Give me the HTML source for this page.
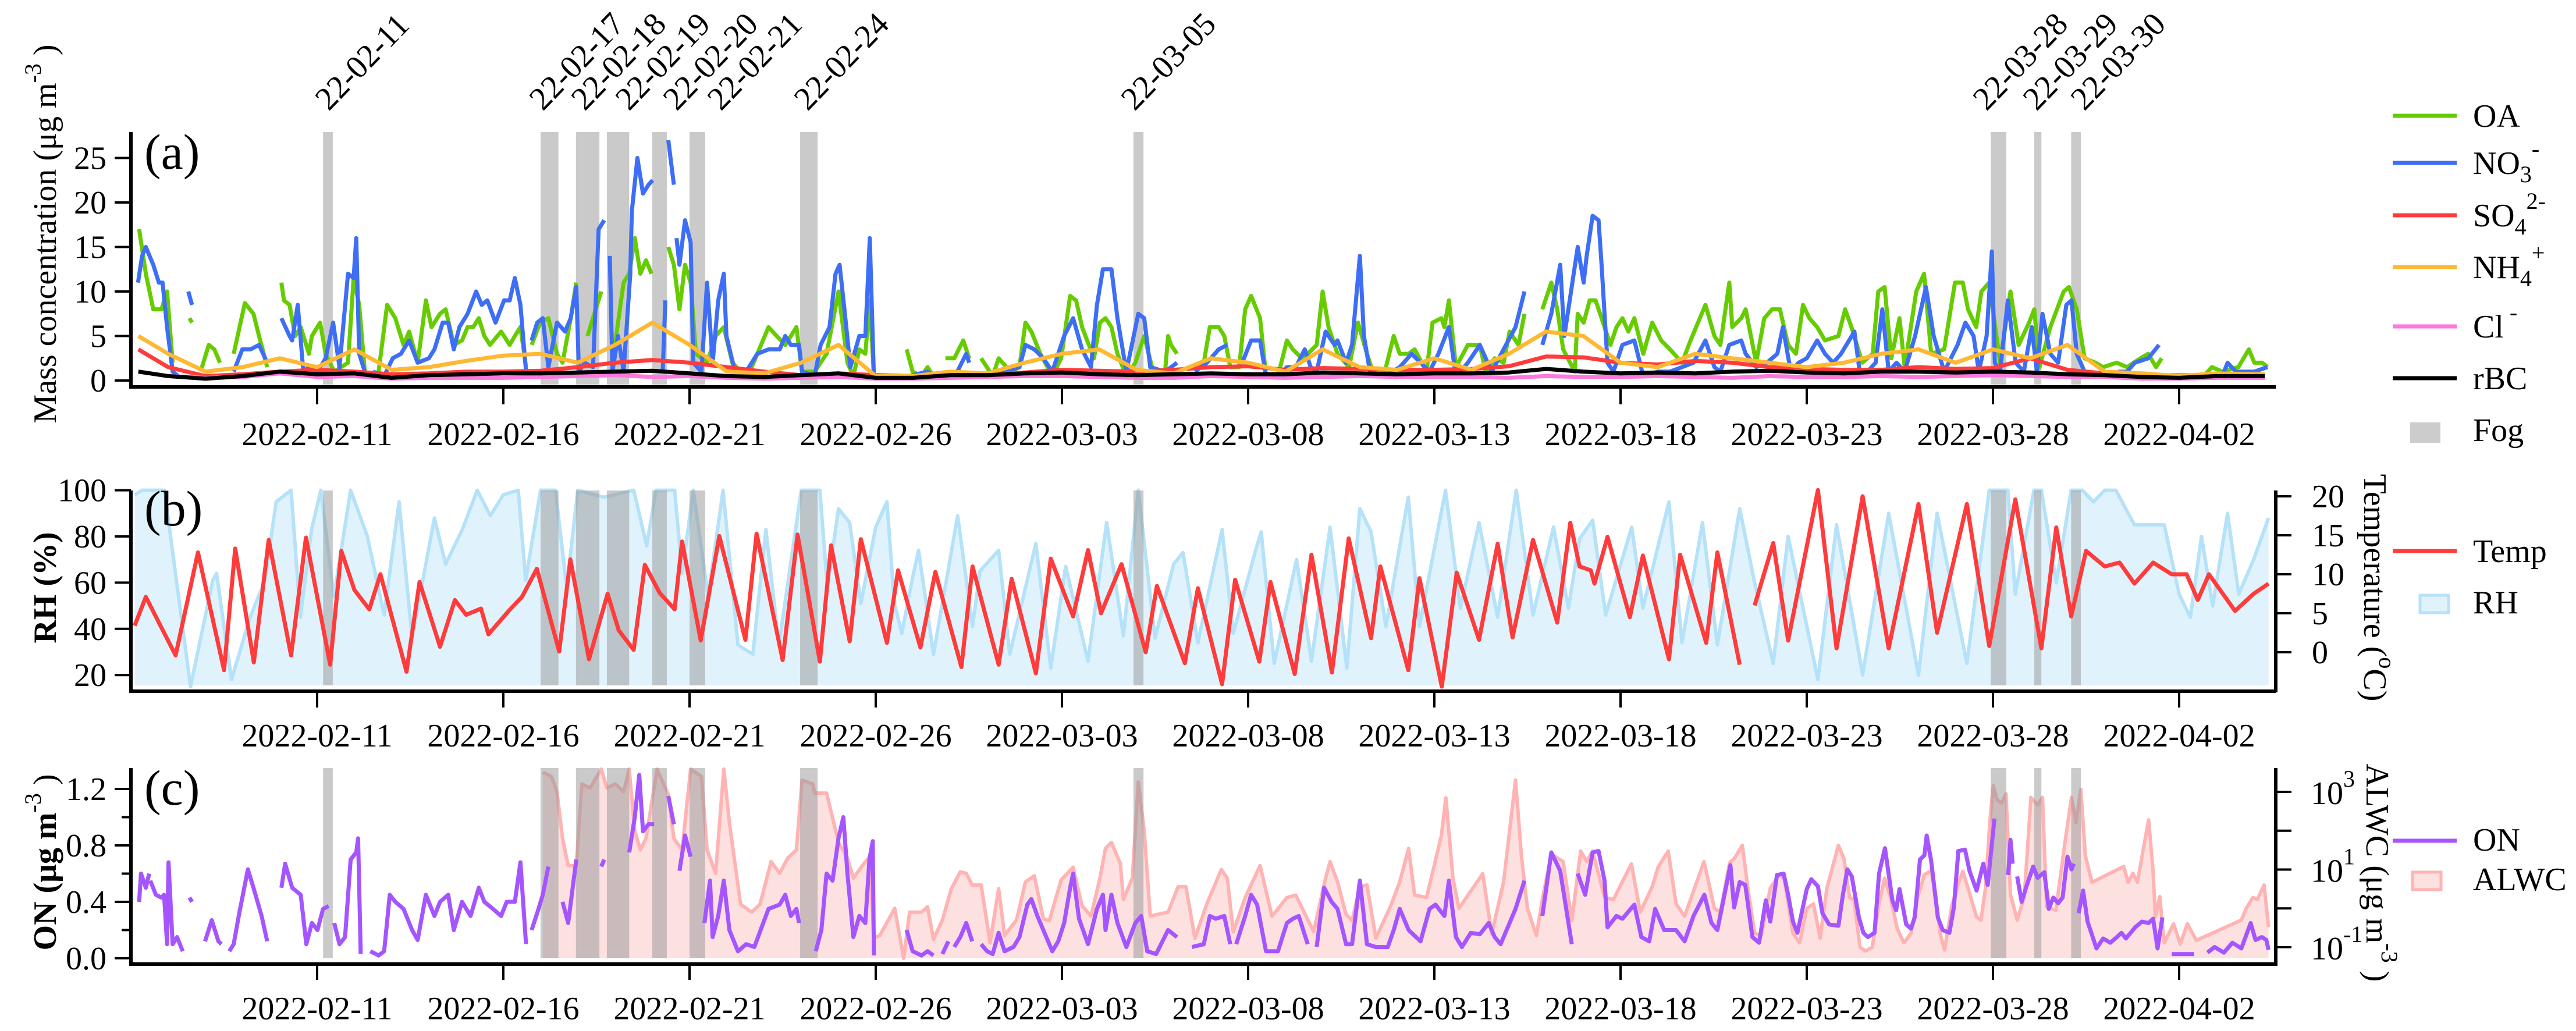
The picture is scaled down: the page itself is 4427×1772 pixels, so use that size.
<!DOCTYPE html>
<html><head><meta charset="utf-8"><title>Time series of aerosol composition, meteorology, ON and ALWC</title>
<style>html,body{margin:0;padding:0;background:#fff}svg{display:block}text{font-family:"Liberation Serif","Times New Roman",serif;fill:#000}</style>
</head><body>
<svg id="chart" xmlns="http://www.w3.org/2000/svg" width="4427" height="1772" viewBox="0 0 4427 1772">
<rect width="4427" height="1772" fill="#fff"/>
<g id="gA"></g>
<g id="gB"></g>
<g id="gC"></g>
<g id="gT"></g>
</svg>
<script>
// ---------- data ----------
const fogStart=[5.16,11.0,11.95,12.78,14.0,15.0,17.97,26.92,49.94,51.11,52.1];
const fogEnd=[5.42,11.48,12.58,13.38,14.39,15.42,18.44,27.19,50.36,51.3,52.36];
const fogLabels=["22-02-11","22-02-17","22-02-18","22-02-19","22-02-20","22-02-21","22-02-24","22-03-05","22-03-28","22-03-29","22-03-30"];
const fogLabelX=[565,933,1005,1081,1163,1239,1388,1950,3414,3500,3582];
const tickDays=[5,10,15,20,25,30,35,40,45,50,55];
const tickLabels=["2022-02-11","2022-02-16","2022-02-21","2022-02-26","2022-03-03","2022-03-08","2022-03-13","2022-03-18","2022-03-23","2022-03-28","2022-04-02"];
const concTicks=[0,5,10,15,20,25];
const rhTicks=[20,40,60,80,100];
const tempTicks=[0,5,10,15,20];
const onTicks=[0,0.4,0.8,1.2];
const onMinor=[0.2,0.6,1.0];
const alwcMajor=[-1,1,3];
const alwcMinor=[0,2];

const oaPts=[[0.22,17],[0.40,12],[0.60,8],[0.82,8],[0.97,10],[1.12,2],null,[1.57,7],[1.64,6.5],null,[1.87,1],[2.09,4],[2.24,3.5],[2.39,2],null,[2.76,3],[3.06,8.7],[3.29,7.5],[3.44,5],[3.66,1.5],null,[4.04,11],[4.11,9],[4.26,8.5],[4.41,5],[4.56,6],[4.78,3],[4.86,5],[5.08,6.5],[5.23,3],[5.46,1],[5.83,2],[5.98,11.5],[6.13,8.5],[6.28,1],null,[6.65,1],[6.88,8.5],[7.10,7],[7.32,4],[7.47,5.5],[7.70,2],[7.92,9],[8.07,6],[8.30,7.5],[8.45,8],[8.67,4],[8.89,4.5],[9.04,6],[9.19,6],[9.34,7],[9.49,5],[9.64,4],[9.94,5.5],[10.17,4],[10.31,5],[10.46,6],[10.61,1.5],null,[10.76,4],[10.99,6.5],[11.21,7],[11.44,3],[11.59,2],[11.81,7],[11.96,11],null,[12.26,5],[12.63,10],null,[12.93,2],[13.23,11],[13.38,12],[13.53,16],[13.68,12],[13.83,13.5],[13.98,12],null,[14.43,15],[14.58,13],[14.73,8],[14.88,13],[15.03,11],[15.17,3],[15.47,2],[15.70,5],[15.92,6],[16.15,2],[16.37,1],[16.67,1.5],[17.12,6],[17.34,5],[17.57,4],[17.72,5],[17.87,6],[18.02,1],[18.36,1],[18.68,3],[19.0,10],[19.24,2],[19.40,0.5],[19.56,3.5],[19.72,3],[19.84,9],[19.95,0.5],null,[20.83,3.5],[20.99,1],[21.23,0.5],[21.39,1.5],[21.55,0.5],null,[21.87,2.5],[22.11,2.5],[22.35,4.5],[22.51,2.5],null,[22.83,2.5],[23.14,0.5],[23.30,2.5],[23.62,1],[23.86,1.5],[24.02,6.5],[24.18,5.5],[24.42,3],[24.74,0.5],[24.98,2.5],[25.22,9.5],[25.38,9],[25.54,6],[25.86,2.5],[26.02,6.5],[26.17,7],[26.33,6],[26.49,3],[26.73,0.5],[26.97,2],[27.21,5],[27.45,1],[27.77,1],[27.85,5],[27.93,4],[28.09,3],null,[28.57,1.5],[28.81,2],[28.97,6],[29.21,6],[29.36,5],[29.52,1.5],[29.76,1.5],[29.92,8],[30.08,9.5],[30.32,7],[30.48,0.5],[30.80,0.5],[31.04,4.5],[31.2,3.5],[31.44,2.5],[31.6,3],[31.84,4],[32.0,10],[32.16,6],[32.4,3],[32.71,1.5],[32.95,6.5],[33.19,3],[33.35,1],[33.67,1],[33.91,5],[34.07,3],[34.31,3],[34.47,3.5],[34.79,1],[34.95,6.5],[35.19,7],[35.27,6],[35.39,9],[35.58,1.5],[35.9,4],[36.22,4],[36.38,1],[36.62,2.5],[36.86,2],[37.02,5.5],[37.26,4],[37.42,7.5],null,[37.9,8],[38.14,11],[38.3,8],[38.46,3.5],[38.77,1],[38.85,7.5],[39.01,6.5],[39.17,9],[39.33,9],[39.49,7],[39.73,4],[39.89,6],[40.05,7],[40.21,5.5],[40.37,7],[40.61,3],[40.85,6.5],[41.09,4.5],[41.33,3.5],[41.65,2],[41.88,4.5],[42.28,8.5],[42.52,5],[42.68,4],[42.92,11],[43.0,6],[43.24,7],[43.36,8],[43.64,2],[43.86,7],[44.07,8],[44.28,8],[44.5,4],[44.71,3],[44.9,8.5],[45.07,7],[45.28,6],[45.49,4.5],[45.85,5],[46.03,8],[46.2,6],[46.49,2],[46.77,3],[46.92,10],[47.09,10.5],[47.27,2.5],[47.49,7],[47.63,1.5],[47.94,10],[48.15,12],[48.34,3],[48.69,3.5],[48.98,11],[49.19,11],[49.33,8],[49.55,6],[49.69,10],[49.9,11],[50.19,2],[50.47,10],[50.69,4],[50.97,6.5],[51.11,8],[51.25,1.5],[51.54,6],[51.9,10],[52.04,10.5],[52.25,8],[52.46,2.5],[52.75,2],[52.96,1.5],[53.32,2],[53.6,1.5],[53.96,2.5],[54.17,3],[54.38,1.5],[54.53,2.5],null,[54.74,0.6],[55.38,0.6],null,[55.66,0.5],[55.88,1.5],[56.16,1],[56.59,1.5],[56.87,3.5],[57.02,2],[57.23,2],[57.37,1.5]];

const no3Pts=[[0.19,11],[0.30,14],[0.40,15],[0.60,13],[0.75,11],[0.85,11],[0.97,6],[1.12,1],[1.27,0.5],null,[1.54,10],[1.64,8.5],null,[1.87,0.5],[2.17,0.5],[2.39,0.5],null,[2.76,1],[2.99,3.5],[3.21,3.5],[3.44,4],[3.66,2],null,[4.04,7],[4.26,5],[4.33,4.5],[4.48,8.5],[4.63,1],[4.78,1.5],[5.01,1],[5.23,2.5],[5.43,6.5],[5.60,1.5],[5.83,12],[5.98,11.5],[6.05,16],[6.13,3],[6.28,1],null,[6.50,1],[6.80,0.5],[7.03,2.5],[7.25,3],[7.47,4.5],[7.70,2],[8.0,2.5],[8.15,3.5],[8.37,6.5],[8.52,6.5],[8.67,3.5],[8.82,6],[9.04,7.5],[9.27,10],[9.42,8.5],[9.57,9],[9.79,6.5],[10.02,9],[10.17,9],[10.31,11.5],[10.46,8.5],[10.61,1],null,[10.76,4.5],[10.91,6.5],[11.06,7],[11.21,1.5],[11.44,6.5],[11.66,5.5],[11.81,7],[11.96,10.5],[12.03,1],[12.18,2],[12.41,1.5],[12.56,17],[12.71,18],null,[12.86,14],[12.93,1],[13.08,5],[13.23,1],[13.41,12],[13.45,19],[13.60,25],[13.75,21],[13.90,22],[14.01,22.5],null,[14.28,1],[14.35,9],null,[14.43,27],[14.58,22],null,[14.65,16],[14.73,13],[14.88,18],[15.03,15.5],[15.10,2],[15.32,1],[15.47,11],[15.62,2],[15.77,9],[15.92,12],[15.99,5],[16.22,1],[16.52,1],[16.82,3],[17.12,3.5],[17.42,3.5],[17.57,5],[17.72,4],[17.94,4],[18.02,1],[18.36,0.5],[18.52,4],[18.76,6],[18.92,12],[19.03,13],[19.16,8],[19.32,1.5],[19.56,5],[19.72,5],[19.84,16],[19.95,0.5],null,[20.91,0.5],[21.39,1],[21.55,0.5],null,[22.19,1],[22.43,3],[22.51,2],null,[22.99,0.5],[23.46,1],[23.86,1.5],[24.02,4],[24.26,3.5],[24.5,2.5],[24.74,1],[25.06,5],[25.3,7],[25.54,3.5],[25.78,1.5],[25.94,8.5],[26.1,12.5],[26.33,12.5],[26.49,7],[26.73,1],[27.05,7.5],[27.21,7],[27.37,1.5],[27.77,1],[28.09,2],null,[28.57,1],[28.89,2],[29.21,3.5],[29.44,4],null,[29.84,2],[30.08,4.5],[30.32,4.5],[30.48,0.5],[30.8,0.5],[31.04,1.5],[31.28,1.5],[31.52,3.5],[31.68,1.5],[31.84,1],[32.08,5.5],[32.32,4],[32.4,4.5],[32.63,2],[32.79,4],[33.0,14],[33.11,5],[33.27,1],[33.67,0.5],[34.07,1.5],[34.39,3],[34.63,2],[34.87,1],[35.11,3],[35.39,6],[35.58,0.5],[35.9,2],[36.22,4],[36.54,1],[36.86,3.5],[37.18,6],[37.42,10],null,[37.9,4],[38.14,7.5],[38.38,13],[38.49,5],[38.85,15],[39.01,11],[39.09,14],[39.25,18.5],[39.41,18],[39.49,13],[39.65,2],[39.81,1],[40.05,4],[40.37,4.5],[40.61,0.5],[41.01,1],[41.33,1],[41.65,1.5],[41.96,2],[42.28,4.5],[42.52,1.5],[42.68,1],[42.92,4],[43.24,4.5],[43.36,3],[43.64,1.5],[43.93,2],[44.21,3],[44.36,6],[44.57,1],[44.78,2],[45.0,2.5],[45.28,4.5],[45.49,3],[45.71,2],[45.92,3],[46.28,5.5],[46.42,1],[46.63,1],[46.85,2],[47.03,8],[47.2,1],[47.41,2],[47.63,1],[47.91,5],[48.2,10.5],[48.41,5],[48.69,1],[49.05,4],[49.26,6.5],[49.48,5],[49.62,1],[49.83,5],[49.97,14.5],[50.05,2],[50.19,1],[50.4,9],[50.61,2],[50.83,1],[51.04,6],[51.18,1],[51.33,7.5],[51.54,3],[51.75,2],[51.97,8.5],[52.11,9],[52.25,3],[52.46,1],[52.75,0.5],[53.17,0.5],[53.39,1],[53.6,1],[53.81,2],[54.17,2.5],[54.46,4],null,[54.74,0.3],[55.38,0.3],null,[55.66,0.5],[56.16,0.5],[56.3,2],[56.52,1],[57.02,1],[57.37,1.5]];

const minorDays=[0.2,1,2,3,4,5,6,7,8,9,10,11,12,13,14,15,16,17,18,19,20,21,22,23,24,25,26,27,28,29,30,31,32,33,34,35,36,37,38,39,40,41,42,43,44,45,46,47,48,49,50,51,52,53,54,55,56,57.3];
const so4Vals=[3.5,1.5,0.5,0.7,1.0,1.2,1.0,0.7,0.8,1.0,1.0,1.1,1.5,2.0,2.3,2.0,1.5,1.0,0.6,0.8,0.6,0.5,0.8,0.7,0.9,1.2,1.1,1.0,1.2,1.5,1.6,1.2,1.4,1.3,1.2,1.2,1.3,1.6,2.7,2.6,2.0,1.8,2.2,2.0,1.5,1.3,1.2,1.2,1.5,1.3,1.4,2.5,1.2,0.8,0.6,0.4,0.6,0.5];
const nh4Vals=[5,3,1,1.5,2.5,1.5,3.5,1.2,1.5,2.2,2.8,3,2,4,6.5,4,1,0.8,2,4,0.5,0.5,1,0.8,2,3,3.5,1.2,0.8,2.5,2,1,3.5,1.5,1.2,2.5,1.2,3,5.5,5,2,1.5,3,2.5,2,1.5,2,3,3.5,2,3.5,2.5,4,1,0.8,0.5,0.8,0.7];
const clVals=[1,0.5,0.3,0.4,0.8,0.4,0.5,0.2,0.3,0.3,0.3,0.4,0.5,0.6,0.4,0.5,0.3,0.2,0.3,0.4,0.2,0.2,0.3,0.4,0.5,0.5,0.4,0.3,0.3,0.5,0.4,0.3,0.4,0.5,0.4,0.4,0.4,0.3,0.5,0.4,0.4,0.5,0.4,0.3,0.5,0.4,0.4,0.5,0.4,0.5,0.6,0.5,0.4,0.4,0.2,0.2,0.3,0.3];
const rbcVals=[1,0.5,0.2,0.5,1.0,0.7,0.8,0.3,0.6,0.7,0.8,0.8,0.9,1.0,1.1,0.8,0.5,0.4,0.6,0.8,0.3,0.3,0.6,0.6,0.8,0.9,0.7,0.6,0.7,0.8,0.7,0.7,0.9,0.8,0.7,0.8,0.8,0.9,1.3,1.0,0.8,0.9,0.8,1.0,1.1,0.9,0.8,1.0,1.0,0.9,1.0,0.9,0.7,0.6,0.4,0.3,0.5,0.5];

const tempPts=[[0.1,3.4],[0.4,7.1],[1.2,-0.4],[1.8,12.8],[2.5,-2.3],[2.8,13.3],[3.3,-1.3],[3.7,14.4],[4.3,-0.4],[4.7,14.7],[5.35,-1.6],[5.65,13],[6.0,8],[6.4,5.5],[6.7,10],[7.4,-2.5],[7.75,9],[8.3,0.7],[8.7,6.7],[9.0,4.8],[9.4,5.6],[9.6,2.3],[10.0,4.5],[10.2,5.6],[10.5,7.1],[10.9,10.7],[11.5,0.1],[11.8,11.9],[12.3,-0.9],[12.8,7.5],[13.1,2.8],[13.5,0.3],[13.8,11.2],[14.2,7.6],[14.6,5.5],[14.8,14.2],[15.3,1.5],[15.8,14.9],[16.5,1.6],[16.8,15.2],[17.5,-1.0],[17.9,15.1],[18.5,-1.2],[18.8,13.7],[19.3,1.4],[19.6,14.5],[20.3,1.2],[20.6,10.5],[21.2,0.6],[21.6,10.3],[22.3,-1.9],[22.6,11],[23.3,-1.6],[23.65,9.4],[24.3,-2.7],[24.7,12],[25.3,4.6],[25.7,13.1],[26.05,5],[26.6,11.3],[27.25,0],[27.55,8.5],[28.3,-1.4],[28.65,8.2],[29.3,-4.1],[29.65,9.3],[30.3,-1.2],[30.6,9],[31.25,-2.8],[31.7,12.5],[32.25,-2.6],[32.7,14.6],[33.3,1.8],[33.55,11],[34.3,-2.3],[34.6,9.5],[35.2,-4.4],[35.6,10.2],[36.2,1.6],[36.7,13.9],[37.1,1.9],[37.65,14.4],[38.3,3.8],[38.65,16.6],[38.9,11],[39.2,10.5],[39.3,8.8],[39.65,14.8],[40.25,4.5],[40.6,12.4],[41.3,-0.9],[41.6,12.5],[42.3,1.2],[42.6,12.8],[43.2,-1.6],null,[43.6,6],[44.1,14],[44.5,1.5],[45.3,20.8],[45.8,0.5],[46.5,20],[47.2,0.5],[48,19],[48.5,2.5],[49.3,19],[49.9,0.8],[50.6,19.6],[51.3,0.5],[51.7,16],[52.1,4.6],[52.5,13],[53,11],[53.4,11.5],[53.8,8.8],[54.3,11.5],[54.8,10],[55.2,10],[55.5,6.7],[55.8,10],[56.5,5.3],[57,7.5],[57.4,8.8]];

const rhPts=[[0.1,98],[0.3,100],[0.9,100],[1.6,15],[2.2,61],[2.3,64],[2.7,18],[3.2,45],[3.6,61],[3.9,95],[4.3,100],[4.55,45],[4.85,83],[5.1,100],[5.45,54],[5.9,100],[6.35,80],[6.8,46],[7.2,95],[7.55,36],[8.15,88],[8.45,68],[8.9,83],[9.3,100],[9.65,89],[10.0,98],[10.4,100],[10.6,61],[11.0,100],[11.4,100],[11.7,58],[12.0,100],[12.7,97],[13.5,100],[13.85,76],[14.1,100],[14.6,100],[14.8,64],[15.1,100],[15.5,54],[15.9,100],[16.3,33],[16.7,29],[17.05,83],[17.4,33],[18.0,100],[18.5,100],[18.7,58],[19.0,92],[19.3,86],[19.6,51],[20.0,84],[20.3,95],[20.5,51],[20.7,38],[21.0,63],[21.15,74],[21.55,29],[22.2,89],[22.6,41],[22.8,65],[23.3,74],[23.6,29],[24.3,77],[24.7,23],[25.1,67],[25.7,26],[26.2,86],[26.65,37],[27.05,100],[27.5,36],[28.0,68],[28.25,73],[28.65,34],[29.3,83],[29.6,38],[30.2,74],[30.35,82],[30.7,25],[31.3,70],[31.7,26],[32.2,84],[32.65,23],[33.0,92],[33.3,82],[33.7,41],[34.3,97],[34.6,41],[35.3,100],[35.7,49],[36.2,86],[36.7,45],[37.2,100],[37.65,46],[38.2,84],[38.6,49],[38.9,79],[39.25,87],[39.6,46],[40.3,84],[40.6,49],[41.3,95],[41.65,34],[42.2,86],[42.6,33],[43.2,92],[43.6,60],[44.1,25],[44.5,80],[45.3,18],[45.8,85],[46.5,20],[47.2,90],[48,20],[48.5,90],[49.3,25],[49.9,100],[50.4,100],[50.6,55],[51.1,100],[51.3,100],[51.7,60],[52.1,100],[52.4,100],[52.7,95],[53,100],[53.3,100],[53.8,85],[54.3,85],[54.6,85],[55,55],[55.3,45],[55.6,80],[55.9,50],[56.3,90],[56.6,55],[57,70],[57.4,88]];

const onPts=[[0.22,0.4],[0.27,0.6],[0.40,0.5],[0.49,0.6],null,[0.52,0.55],[0.67,0.45],[0.82,0.43],[0.89,0.45],[0.97,0.1],[1.01,0.68],[1.12,0.1],[1.24,0.15],[1.39,0.05],null,[1.57,0.43],[1.64,0.4],null,[1.99,0.12],[2.17,0.27],[2.35,0.12],[2.43,0.1],null,[2.64,0.05],[2.76,0.1],[2.91,0.32],[3.14,0.63],[3.29,0.5],[3.51,0.3],[3.66,0.12],null,[4.04,0.5],[4.14,0.67],[4.33,0.5],[4.56,0.45],[4.71,0.1],[4.86,0.25],[5.01,0.2],[5.16,0.35],[5.31,0.37],null,[5.46,0.25],[5.60,0.1],[5.75,0.15],[5.90,0.7],[6.05,0.75],[6.10,0.85],[6.17,0.03],null,[6.43,0.05],[6.65,0.02],[6.80,0.05],[6.95,0.45],[7.10,0.4],[7.32,0.35],[7.55,0.2],[7.70,0.13],[7.92,0.45],[8.15,0.3],[8.30,0.4],[8.52,0.45],[8.67,0.2],[8.89,0.4],[9.12,0.3],[9.34,0.5],[9.49,0.4],[9.72,0.35],[9.94,0.3],[10.09,0.4],[10.31,0.4],[10.46,0.68],[10.61,0.1],null,[10.76,0.2],[10.91,0.32],[11.06,0.45],[11.21,0.65],null,[11.59,0.4],[11.74,0.25],[11.96,0.7],null,[12.63,0.65],[12.71,0.7],null,[13.38,0.75],[13.53,1.0],[13.65,1.3],[13.75,0.9],[13.90,0.95],[14.05,0.95],null,[14.43,1.15],[14.58,0.95],null,[14.73,0.62],[14.88,0.87],[15.03,0.72],null,[15.40,0.25],[15.55,0.55],[15.62,0.15],[15.77,0.3],[15.92,0.55],[16.07,0.2],[16.30,0.05],[16.52,0.1],[16.74,0.08],[17.12,0.35],[17.42,0.38],[17.57,0.45],[17.72,0.3],[17.87,0.35],[17.94,0.25],null,[18.39,0.05],[18.54,0.2],[18.68,0.6],[18.84,0.55],[19.0,0.85],[19.13,1.0],[19.24,0.6],[19.40,0.15],[19.56,0.3],[19.72,0.25],[19.83,0.7],[19.92,0.83],[19.95,0.02],null,[20.83,0.2],[20.99,0.05],[21.23,0.02],[21.39,0.05],[21.55,0.02],null,[21.79,0.03],[21.95,0.12],null,[22.11,0.08],[22.27,0.15],[22.43,0.25],[22.59,0.12],null,[22.83,0.1],[22.99,0.05],[23.14,0.03],[23.30,0.18],[23.46,0.05],[23.70,0.08],[23.86,0.15],[24.07,0.38],[24.18,0.42],[24.34,0.3],[24.5,0.2],[24.74,0.05],[24.9,0.12],[25.06,0.25],[25.22,0.5],[25.3,0.6],[25.46,0.28],[25.7,0.1],[25.94,0.35],[26.1,0.45],[26.17,0.2],[26.33,0.45],[26.49,0.25],[26.73,0.08],[26.97,0.25],[27.13,0.3],[27.29,0.05],[27.53,0.03],[27.85,0.2],[28.09,0.15],null,[28.49,0.08],[28.81,0.1],[28.97,0.3],[29.13,0.28],[29.36,0.3],[29.52,0.1],null,[29.68,0.1],[29.92,0.3],[30.08,0.45],[30.24,0.38],[30.48,0.05],[30.8,0.05],[31.04,0.25],[31.2,0.28],[31.36,0.3],[31.6,0.1],null,[31.84,0.08],[32.04,0.5],[32.24,0.4],[32.4,0.35],[32.63,0.1],[32.79,0.1],[33.0,0.55],[33.19,0.1],[33.43,0.08],[33.75,0.08],[33.91,0.2],[34.07,0.35],[34.31,0.2],[34.63,0.12],[34.87,0.35],[35.03,0.38],[35.27,0.3],[35.39,0.55],[35.58,0.15],[35.74,0.08],[35.98,0.18],[36.22,0.17],[36.46,0.25],[36.62,0.15],[36.78,0.1],[37.02,0.25],[37.18,0.35],[37.42,0.55],null,[37.9,0.3],[38.14,0.75],[38.38,0.62],[38.69,0.1],null,[38.85,0.6],[39.05,0.45],[39.25,0.75],[39.41,0.76],[39.57,0.55],[39.65,0.22],[39.89,0.3],[40.05,0.28],[40.37,0.38],[40.56,0.15],[40.77,0.12],[40.93,0.35],[41.17,0.2],[41.49,0.2],[41.72,0.12],[41.96,0.3],[42.25,0.45],[42.44,0.25],[42.6,0.2],[42.95,0.66],[43.05,0.36],[43.2,0.54],[43.35,0.52],[43.54,0.15],[43.72,0.11],[43.9,0.41],[44.02,0.26],[44.2,0.59],[44.38,0.6],[44.5,0.45],[44.63,0.26],[44.75,0.18],[45.0,0.49],[45.12,0.56],[45.3,0.51],[45.42,0.32],[45.6,0.24],[45.85,0.23],[45.97,0.45],[46.09,0.63],[46.21,0.58],[46.4,0.29],[46.52,0.18],[46.64,0.15],[46.82,0.18],[46.94,0.6],[47.1,0.78],[47.3,0.41],[47.4,0.34],[47.49,0.49],[47.67,0.24],[47.8,0.21],[47.9,0.29],[48.04,0.7],[48.16,0.73],[48.22,0.87],[48.34,0.69],[48.52,0.29],[48.65,0.2],[48.83,0.18],[48.95,0.36],[49.07,0.76],[49.25,0.77],[49.37,0.62],[49.56,0.48],[49.74,0.67],[49.86,0.52],[50.04,0.99],null,[50.41,0.59],[50.47,0.84],[50.53,0.67],null,[50.65,0.58],[50.77,0.4],[50.9,0.51],[51.08,0.65],[51.2,0.57],[51.38,0.61],[51.5,0.35],[51.62,0.43],[51.75,0.39],[51.87,0.43],[52.0,0.72],[52.11,0.63],[52.17,0.67],null,[52.3,0.32],[52.42,0.48],[52.54,0.26],[52.78,0.07],[52.96,0.14],[53.15,0.11],[53.33,0.15],[53.45,0.18],[53.57,0.14],[53.82,0.22],[54.0,0.26],[54.18,0.25],[54.3,0.28],[54.42,0.07],[54.55,0.29],null,[54.8,0.03],[55.4,0.03],null,[55.76,0.04],[55.95,0.08],[56.2,0.04],[56.43,0.11],[56.67,0.07],[56.92,0.25],[57.05,0.13],[57.22,0.15],[57.34,0.13],[57.4,0.06]];

const alwcPts=[[11.06,3200],[11.29,2500],[11.44,1000],[11.59,63],[11.74,12.6],[11.96,12.6],[12.11,1600],[12.33,1260],[12.63,5000],[12.78,1260],[13.01,1600],[13.23,1000],[13.38,5000],[13.53,100],[13.68,32],[13.83,63],[14.13,8000],[14.43,850],[14.58,63],[14.80,32],[15.03,5000],[15.32,2500],[15.47,32],[15.70,8],[15.92,4000],[16.07,160],[16.37,1.26],[16.67,0.8],[16.89,1.26],[17.19,16],[17.42,8],[17.64,20],[17.87,32],[18.02,2000],[18.31,1600],[18.36,930],[18.68,930],[19.0,50],[19.24,20],[19.4,6],[19.64,12.6],[19.83,21],[19.95,0.17],[20.11,0.2],[20.51,1],[20.75,0.04],[20.91,0.8],[21.23,0.8],[21.39,1.1],[21.55,0.16],[21.79,0.5],[22.03,3.2],[22.27,8.7],[22.43,8],[22.59,4],[22.83,4],[23.07,0.13],[23.3,3.2],[23.46,0.2],[23.78,0.5],[24.02,4.8],[24.26,6.9],[24.5,0.54],[24.66,0.48],[24.98,5.4],[25.3,11.5],[25.54,1.17],[25.78,0.63],[26.02,6],[26.17,35],[26.33,50],[26.57,14],[26.65,1.7],[26.89,6],[27.05,1800],[27.21,98],[27.37,0.63],[27.85,0.8],[28.12,3.6],[28.33,3.6],[28.57,0.17],[28.89,1.3],[29.28,10],[29.44,6],[29.6,0.25],[29.92,1.9],[30.32,12.6],[30.64,0.63],[31.04,1.9],[31.28,2.2],[31.76,0.25],[32.08,6],[32.2,16],[32.4,4.8],[32.63,0.7],[32.79,0.48],[33.0,3.6],[33.19,4],[33.43,0.17],[33.83,1.17],[34.07,4.8],[34.31,35],[34.47,2.2],[34.79,1.9],[35.19,76],[35.31,700],[35.5,6],[35.66,1],[36.3,7.8],[36.54,0.22],[36.86,4.8],[37.18,2000],[37.34,21],[37.5,1],[37.74,0.2],[37.9,1.7],[38.14,25],[38.46,16],[38.69,0.48],[38.93,30],[39.09,16],[39.25,30],[39.57,1.9],[39.81,1.7],[40.13,6.9],[40.29,14],[40.53,0.8],[40.85,3.6],[41.01,11.5],[41.28,30],[41.49,1.3],[41.72,0.63],[41.88,1.7],[42.24,16],[42.52,1],[42.68,0.8],[42.93,15],[43.05,19],[43.27,42],[43.42,3.3],[43.6,0.23],[43.78,0.2],[44.02,3.3],[44.27,7.4],[44.4,5.5],[44.63,0.23],[44.81,0.13],[45.0,1],[45.18,1.3],[45.36,0.17],[45.54,3.3],[45.85,42],[46.0,19],[46.15,1.9],[46.27,1.6],[46.43,0.1],[46.58,0.08],[46.76,0.1],[46.94,1.3],[47.09,6],[47.25,1.9],[47.43,0.3],[47.61,0.13],[47.8,0.23],[47.98,1.9],[48.16,7.4],[48.34,9.3],[48.46,2.3],[48.58,0.23],[48.7,0.085],[48.89,1.1],[49.07,4.3],[49.19,9],[49.38,2.3],[49.56,0.6],[49.68,0.5],[49.8,3.3],[49.92,190],[50.01,1450],[50.1,650],[50.23,510],[50.35,900],[50.47,2.3],[50.65,0.5],[50.84,1.9],[51.02,720],[51.2,460],[51.33,720],[51.44,1.1],[51.69,0.9],[51.93,47],[52.11,720],[52.23,160],[52.36,1150],[52.48,23],[52.66,4.7],[53.51,12],[53.63,4.7],[53.76,8],[53.88,4.7],[54.0,21],[54.18,190],[54.3,9],[54.36,0.6],[54.48,2],[54.6,0.13],[54.85,0.4],[55.03,0.12],[55.22,0.4],[55.46,0.15],[55.7,0.19],[56.67,0.5],[56.8,1],[56.98,1.9],[57.1,1.7],[57.28,4],[57.4,0.33]];

// ---------- scales ----------
const X0=225, PXD=64;
const xs=d=>X0+PXD*d;
const yA=c=>654-15.3*c;
const yRH=r=>922-(r-80)*3.97;
const yT=t=>1121-13.4*t;
const yON=v=>1647-242.5*v;
const yAL=v=>Math.max(1322,Math.min(1647,1628-(Math.log10(v)+1)*66.75));
const XR=3911;
const LW=7;

const NS="http://www.w3.org/2000/svg";
function mk(parent,tag,attrs){const e=document.createElementNS(NS,tag);for(const k in attrs)e.setAttribute(k,attrs[k]);parent.appendChild(e);return e;}
function pathFromPts(pts,yf){let d="",pen=false;for(const p of pts){if(p===null){pen=false;continue;}d+=(pen?"L":"M")+xs(p[0]).toFixed(1)+" "+yf(p[1]).toFixed(1);pen=true;}return d;}
function pathFromArrays(days,vals,yf){let d="",pen=false;for(let i=0;i<days.length;i++){if(vals[i]===null){pen=false;continue;}d+=(pen?"L":"M")+xs(days[i]).toFixed(1)+" "+yf(vals[i]).toFixed(1);pen=true;}return d;}

const gA=document.getElementById('gA'),gB=document.getElementById('gB'),gC=document.getElementById('gC'),gT=document.getElementById('gT');
const FOG="rgba(150,150,150,0.5)";

function fogBars(g,top,bot,name){for(let i=0;i<fogStart.length;i++){const r=mk(g,'rect',{x:xs(fogStart[i]),y:top,width:xs(fogEnd[i])-xs(fogStart[i]),height:bot-top,fill:FOG});

}}

function text(g,x,y,str,opts){const t=mk(g,'text',Object.assign({x:x,y:y,'font-size':56},opts||{}));t.textContent=str;return t;}

function dateAxis(g,yAxis,yTickEnd,yLab,name){
  const l=mk(g,'line',{x1:X0-3,y1:yAxis,x2:XR,y2:yAxis,stroke:'#000','stroke-width':6});
  
  
  for(let i=0;i<tickDays.length;i++){const x=xs(tickDays[i]);
    const tk=mk(g,'line',{x1:x,y1:yAxis,x2:x,y2:yTickEnd,stroke:'#000','stroke-width':4});
    
    
    const t=text(g,x,yLab,tickLabels[i],{'text-anchor':'middle'});
    
    }
}
function leftAxis(g,top,bot,ticks,yf,fmt,name){
  const l=mk(g,'line',{x1:X0,y1:top,x2:X0,y2:bot,stroke:'#000','stroke-width':6});
  
  
  for(const v of ticks){const y=yf(v);
    const tk=mk(g,'line',{x1:X0-28,y1:y,x2:X0,y2:y,stroke:'#000','stroke-width':4});
    
    
    const t=text(g,183,y+19,fmt(v),{'text-anchor':'end'});
    
    }
}

// ---------- panel a ----------
fogBars(gA,227,661,'panel-a');
const seriesA=[['oa-line',oaPts,null,'#66cc00'],['no3-line',no3Pts,null,'#3d6ef5'],['so4-line',null,so4Vals,'#ff3b3b'],['nh4-line',null,nh4Vals,'#ffb833'],['cl-line',null,clVals,'#ff77dd'],['rbc-line',null,rbcVals,'#000000']];
for(const s of seriesA){const d=s[1]?pathFromPts(s[1],yA):pathFromArrays(minorDays,s[2],yA);
  const p=mk(gA,'path',{d:d,fill:'none',stroke:s[3],'stroke-width':LW,'stroke-linejoin':'round'});
  
  }
leftAxis(gA,227,667,concTicks,yA,v=>String(v),'panel-a');
dateAxis(gA,665,695,765,'panel-a');

// ---------- panel b ----------
{let pts=rhPts;let d="M"+xs(pts[0][0])+" 1178";for(const p of pts)d+="L"+xs(p[0]).toFixed(1)+" "+yRH(p[1]).toFixed(1);d+="L"+xs(pts[pts.length-1][0])+" 1178Z";
const f=mk(gB,'path',{d:d,fill:'#e0f3fc',stroke:'none'});


const l=mk(gB,'path',{d:pathFromPts(rhPts,yRH),fill:'none',stroke:'#b5e2f8','stroke-width':6,'stroke-linejoin':'round'});

}
fogBars(gB,843,1178,'panel-b');
{const l=mk(gB,'path',{d:pathFromPts(tempPts,yT),fill:'none',stroke:'#ff3b3b','stroke-width':LW,'stroke-linejoin':'round'});

}
leftAxis(gB,843,1190,rhTicks,yRH,v=>String(v),'panel-b');
dateAxis(gB,1188,1216,1283,'panel-b');
{const l=mk(gB,'line',{x1:XR,y1:843,x2:XR,y2:1190,stroke:'#000','stroke-width':6});


for(const v of tempTicks){const y=yT(v);
 const tk=mk(gB,'line',{x1:XR,y1:y,x2:XR+27,y2:y,stroke:'#000','stroke-width':4});
 
 
 const t=text(gB,3973,y+19,String(v));
 
 }}

// ---------- panel c ----------
{const pts=alwcPts;let d="M"+xs(pts[0][0])+" 1647";for(const p of pts)d+="L"+xs(p[0]).toFixed(1)+" "+yAL(p[1]).toFixed(1);d+="L"+xs(pts[pts.length-1][0])+" 1647Z";
const f=mk(gC,'path',{d:d,fill:'#fde0e0',stroke:'none'});


const l=mk(gC,'path',{d:pathFromPts(alwcPts,yAL),fill:'none',stroke:'#ffb3b3','stroke-width':6,'stroke-linejoin':'round'});

}
fogBars(gC,1320,1647,'panel-c');
{const l=mk(gC,'path',{d:pathFromPts(onPts,yON),fill:'none',stroke:'#a555ff','stroke-width':LW,'stroke-linejoin':'round'});

}
leftAxis(gC,1320,1660,onTicks,yON,v=>v.toFixed(1),'panel-c');
for(const v of onMinor){const y=yON(v);const tk=mk(gC,'line',{x1:X0-16,y1:y,x2:X0,y2:y,stroke:'#000','stroke-width':4});
 
 }
dateAxis(gC,1657,1684,1752,'panel-c');
{const l=mk(gC,'line',{x1:XR,y1:1320,x2:XR,y2:1660,stroke:'#000','stroke-width':6});


for(const e of alwcMajor.concat(alwcMinor)){const y=1628-(e+1)*66.75;
 const tk=mk(gC,'line',{x1:XR,y1:y,x2:XR+27,y2:y,stroke:'#000','stroke-width':4});
 
 }
for(const e of alwcMajor){const y=1628-(e+1)*66.75;
 const t=text(gC,3971,y+21,"10");
 const s=mk(t,'tspan',{dy:-30,'font-size':40});s.textContent=String(e);
 
 }}

// ---------- titles, panel letters, fog labels, legends ----------
function rot(g,x,y,ang,str,opts){const t=mk(g,'text',Object.assign({transform:`translate(${x},${y}) rotate(${ang})`,'text-anchor':'middle','font-size':56},opts||{}));t.textContent=str;return t;}
{const t=rot(gT,96,402,-90,"Mass concentration (μg m");const s=mk(t,'tspan',{dy:-26,'font-size':40});s.textContent="-3";const s2=mk(t,'tspan',{dy:26});s2.textContent=" )";

}
{const t=rot(gT,96,1010,-90,"RH (%)",{'font-weight':'bold'});

}
{const t=rot(gT,96,1482,-90,"ON (μg m",{'font-weight':'bold'});const s=mk(t,'tspan',{dy:-26,'font-size':40,'font-weight':'normal'});s.textContent="-3";const s2=mk(t,'tspan',{dy:26,'font-weight':'normal'});s2.textContent=" )";

}
{const t=rot(gT,4063,1010,90,"Temperature (");const s=mk(t,'tspan',{dy:-26,'font-size':40});s.textContent="o";const s2=mk(t,'tspan',{dy:26});s2.textContent="C)";

}
{const t=rot(gT,4067,1500,90,"ALWC (μg m");const s=mk(t,'tspan',{dy:-26,'font-size':40});s.textContent="-3";const s2=mk(t,'tspan',{dy:26});s2.textContent=" )";

}
const letters=[["(a)",290,'panel-a-label'],["(b)",903,'panel-b-label'],["(c)",1383,'panel-c-label']];
for(const L of letters){const t=text(gT,248,L[1],L[0],{'font-size':86});
 
 }
for(let i=0;i<fogLabels.length;i++){const t=mk(gT,'text',{transform:`translate(${fogLabelX[i]},192) rotate(-46)`,'font-size':56});t.textContent=fogLabels[i];
 
 }

function legLine(y,color,name){const l=mk(gT,'line',{x1:4112,y1:y,x2:4222,y2:y,stroke:color,'stroke-width':7});
 
 }
function legText(y,main,sub,sup,name){const t=text(gT,4250,y,main);
 if(sub){const s=mk(t,'tspan',{dy:14,'font-size':40});s.textContent=sub;}
 if(sup){const s=mk(t,'tspan',{dy:sub?-44:-30,'font-size':40});s.textContent=sup;}
 
 }
const legA=[["OA",null,null,'#66cc00',199,'oa'],["NO",'3','-','#3d6ef5',280,'no3'],["SO",'4','2-','#ff3b3b',370,'so4'],["NH",'4','+','#ffb833',459,'nh4'],["Cl",null,' -','#ff77dd',561,'cl'],["rBC",null,null,'#000',650,'rbc']];
for(const L of legA){legLine(L[4],L[3],L[5]);legText(L[4]+19,L[0],L[1],L[2],L[5]);}
{const r=mk(gT,'rect',{x:4142,y:726,width:52,height:35,fill:'#cccccc'});


legText(758,"Fog",null,null,'fog');}
legLine(947,'#ff3b3b','temp');legText(966,"Temp",null,null,'temp');
{const r=mk(gT,'rect',{x:4159,y:1023,width:49,height:30,fill:'#e0f3fc',stroke:'#b5e2f8','stroke-width':5});


legText(1054,"RH",null,null,'rh');}
legLine(1445,'#a555ff','on');legText(1462,"ON",null,null,'on');
{const r=mk(gT,'rect',{x:4146,y:1499,width:49,height:30,fill:'#fde0e0',stroke:'#ffb3b3','stroke-width':5});


legText(1530,"ALWC",null,null,'alwc');}
</script>
</body></html>
